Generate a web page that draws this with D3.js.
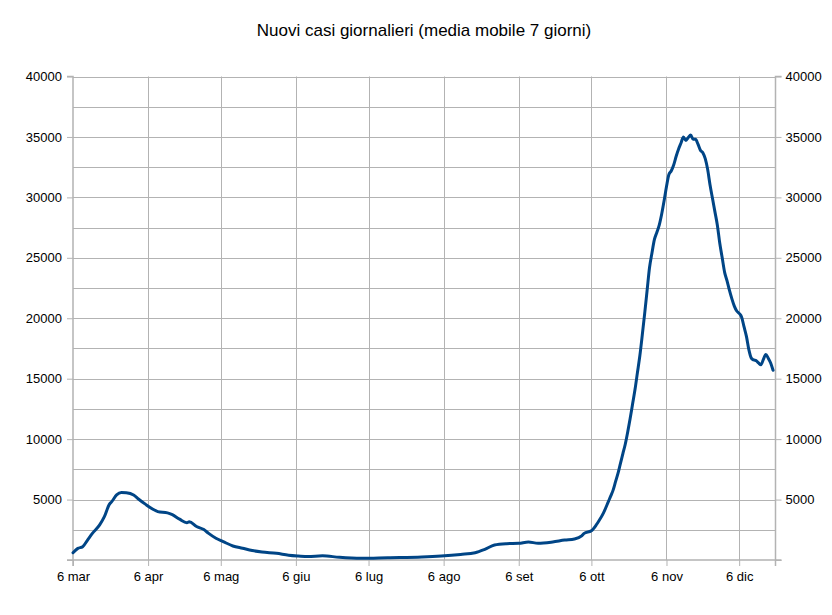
<!DOCTYPE html>
<html>
<head>
<meta charset="utf-8">
<script src="https://cdn.jsdelivr.net/npm/d3@7"></script>
<style>
  html, body { margin: 0; padding: 0; background: #ffffff; }
  svg { display: block; font-family: "Liberation Sans", Arial, sans-serif; }
</style>
</head>
<body>
<svg id="chart" width="832" height="615"></svg>
<script>
const title = "Nuovi casi giornalieri (media mobile 7 giorni)";

const dates = [
  "2020-03-06","2020-03-08","2020-03-10","2020-03-12","2020-03-14","2020-03-17","2020-03-19","2020-03-21",
  "2020-03-22","2020-03-24","2020-03-26","2020-03-28","2020-03-31","2020-04-02","2020-04-05","2020-04-08",
  "2020-04-10","2020-04-14","2020-04-16","2020-04-19","2020-04-22","2020-04-23","2020-04-26","2020-04-29",
  "2020-05-01","2020-05-04","2020-05-07","2020-05-11","2020-05-15","2020-05-19","2020-05-23","2020-05-29",
  "2020-06-03","2020-06-07","2020-06-11","2020-06-17","2020-06-24","2020-07-03","2020-07-14","2020-07-28",
  "2020-08-05","2020-08-13","2020-08-19","2020-08-23","2020-08-27","2020-09-01","2020-09-06","2020-09-10",
  "2020-09-14","2020-09-20","2020-09-25","2020-09-29","2020-10-02","2020-10-03","2020-10-06","2020-10-08",
  "2020-10-09","2020-10-11","2020-10-13","2020-10-14","2020-10-15","2020-10-16","2020-10-17","2020-10-18",
  "2020-10-19","2020-10-20","2020-10-21","2020-10-22","2020-10-23","2020-10-24","2020-10-25","2020-10-26",
  "2020-10-27","2020-10-28","2020-10-29","2020-10-30","2020-10-31","2020-11-01","2020-11-02","2020-11-03",
  "2020-11-04","2020-11-05","2020-11-06","2020-11-07","2020-11-08","2020-11-09","2020-11-10","2020-11-11",
  "2020-11-12","2020-11-13","2020-11-14","2020-11-15","2020-11-16","2020-11-17","2020-11-18","2020-11-19",
  "2020-11-20","2020-11-21","2020-11-22","2020-11-23","2020-11-24","2020-11-25","2020-11-26","2020-11-27",
  "2020-11-28","2020-11-29","2020-11-30","2020-12-01","2020-12-02","2020-12-03","2020-12-04","2020-12-05",
  "2020-12-06","2020-12-07","2020-12-08","2020-12-09","2020-12-10","2020-12-11","2020-12-12","2020-12-13",
  "2020-12-14","2020-12-15","2020-12-16","2020-12-17","2020-12-18","2020-12-19","2020-12-20"
];

const cases = [
  600, 960, 1100, 1650, 2200, 2900, 3600, 4600,
  4830, 5380, 5580, 5560, 5380, 5050, 4600, 4200,
  4000, 3900, 3750, 3380, 3090, 3170, 2770, 2520,
  2200, 1800, 1520, 1160, 970, 780, 660, 550,
  400, 330, 280, 350, 220, 140, 190, 250,
  330, 460, 600, 880, 1240, 1350, 1380, 1490,
  1380, 1490, 1650, 1740, 2000, 2200, 2420, 2900,
  3200, 3900, 4830, 5300, 5800, 6500, 7180, 8000,
  8800, 9600, 10600, 11700, 12900, 14100, 15500, 16900,
  18600, 20400, 22300, 24200, 25400, 26500, 27100, 27700,
  28600, 29700, 30900, 31900, 32200, 32700, 33400, 34000,
  34500, 35000, 34700, 34950, 35150, 34800, 34800, 34400,
  33900, 33700, 33200, 32300, 31000, 29900, 28800, 27700,
  26200, 25000, 23800, 23100, 22300, 21600, 21000, 20600,
  20400, 20100, 19300, 18500, 17400, 16700, 16550, 16500,
  16300, 16150, 16600, 17000, 16700, 16300, 15700
];

const xTickDates = ["2020-03-06","2020-04-06","2020-05-06","2020-06-06","2020-07-06","2020-08-06","2020-09-06","2020-10-06","2020-11-06","2020-12-06"];
const xTickLabels = ["6 mar","6 apr","6 mag","6 giu","6 lug","6 ago","6 set","6 ott","6 nov","6 dic"];
const yLabelTicks = [0, 5000, 10000, 15000, 20000, 25000, 30000, 35000, 40000];
const yGridTicks = [2500, 5000, 7500, 10000, 12500, 15000, 17500, 20000, 22500, 25000, 27500, 30000, 32500, 35000, 37500, 40000];
const xDomain = ["2020-03-06", "2020-12-21"];
const yDomain = [0, 40000];

(function () {
const parse = d3.utcParse("%Y-%m-%d");
const data = dates.map((d, i) => ({ date: parse(d), value: cases[i] }));

const pL = 73, pR = 775.5, pT = 76.5, pB = 560;
const svg = d3.select("#chart");

const x = d3.scaleUtc().domain(xDomain.map(parse)).range([pL, pR]);
const y = d3.scaleLinear().domain(yDomain).range([pB, pT]);

const gridColor = "#b3b3b3";

svg.append("g").selectAll("line").data(yGridTicks).join("line")
  .attr("x1", pL).attr("x2", pR)
  .attr("y1", d => Math.round(y(d)) + 0.5).attr("y2", d => Math.round(y(d)) + 0.5)
  .attr("stroke", gridColor).attr("stroke-width", 1);

svg.append("g").selectAll("line").data(xTickDates.slice(1)).join("line")
  .attr("x1", d => Math.round(x(parse(d))) + 0.5).attr("x2", d => Math.round(x(parse(d))) + 0.5)
  .attr("y1", pT).attr("y2", pB)
  .attr("stroke", gridColor).attr("stroke-width", 1);

const yAxisL = d3.axisLeft(y).tickValues(yLabelTicks).tickSize(6).tickPadding(5)
  .tickFormat(d => d === 0 ? "" : String(d));
const gL = svg.append("g").attr("transform", `translate(${pL},0)`).call(yAxisL);

const yAxisR = d3.axisRight(y).tickValues(yLabelTicks).tickSize(6).tickPadding(4)
  .tickFormat(d => d === 0 ? "" : String(d));
const gR = svg.append("g").attr("transform", `translate(${pR},0)`).call(yAxisR);

const xAxis = d3.axisBottom(x).tickValues(xTickDates.map(parse)).tickSize(6).tickPadding(6)
  .tickFormat((d, i) => xTickLabels[i]);
const gB = svg.append("g").attr("transform", `translate(0,${pB})`).call(xAxis);

[gL, gR, gB].forEach(g => {
  g.select(".domain").attr("stroke", gridColor).attr("stroke-width", 1.5);
  g.selectAll(".tick line").attr("stroke", gridColor).attr("stroke-width", 1);
  g.selectAll(".tick text").attr("fill", "#000").attr("font-size", 13)
    .attr("font-family", "'Liberation Sans', Arial, sans-serif");
});
gL.select(".domain").attr("d", `M-6,${y(40000)}H0V${pB}H-6`);
gR.select(".domain").attr("d", `M6,${y(40000)}H0V${pB}H6`);
gB.select(".domain").attr("d", `M${pL},6V0H${pR}V6`);

const line = d3.line().x(d => x(d.date)).y(d => y(d.value)).curve(d3.curveMonotoneX);
svg.append("path").datum(data)
  .attr("fill", "none").attr("stroke", "#004586").attr("stroke-width", 3)
  .attr("stroke-linejoin", "round").attr("stroke-linecap", "round")
  .attr("d", line);

svg.append("text").attr("x", 424).attr("y", 36).attr("text-anchor", "middle")
  .attr("font-size", 17).attr("fill", "#000").text(title);
})();
</script>
</body>
</html>
